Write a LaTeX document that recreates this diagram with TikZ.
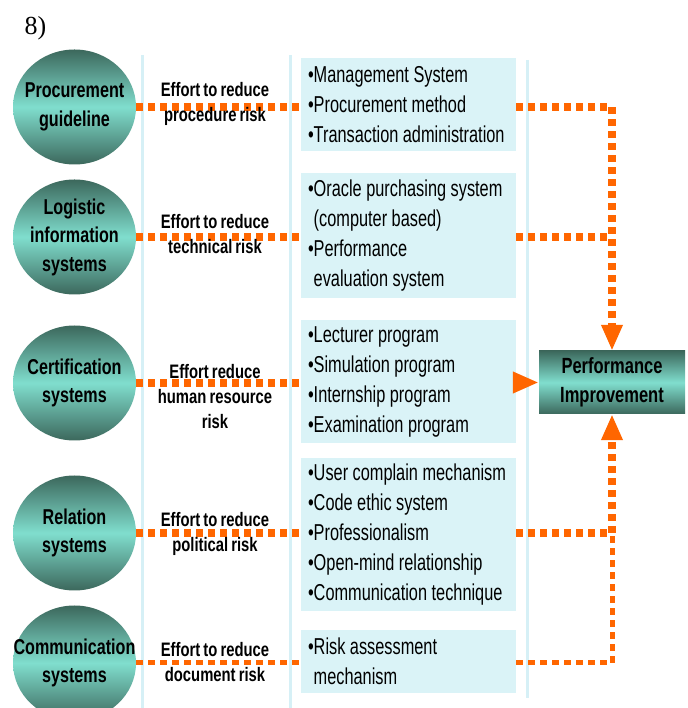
\documentclass[tikz,border=0pt]{standalone}
\usepackage{fontspec}
\setmainfont[FakeStretch=0.75,WordSpace=0.75]{Liberation Sans}
\newfontfamily\itemfam[FakeStretch=0.71]{Liberation Sans}
\newfontfamily\effortfam[FakeStretch=0.76,WordSpace=0.75]{Liberation Sans}
\newfontfamily\serifnum{Liberation Serif}
\usetikzlibrary{shapes.geometric,arrows.meta}
\definecolor{tealdark}{RGB}{60,104,92}
\definecolor{teallight}{RGB}{128,222,206}
\definecolor{boxblue}{RGB}{218,243,247}
\definecolor{guideblue}{RGB}{214,240,246}
\definecolor{floworange}{RGB}{255,102,0}
\begin{document}
\begin{tikzpicture}[>={Triangle[length=26bp,width=20bp]},line join=bevel,
  circ/.style={ellipse,minimum width=123bp,minimum height=115bp,inner sep=0pt,
    top color=tealdark,bottom color=tealdark,middle color=teallight},
  circtext/.style={align=center,inner sep=0pt,font=\bfseries\fontsize{21.5bp}{28.5bp}\selectfont},
  perfbox/.style={rectangle,minimum width=146bp,minimum height=63bp,inner sep=0pt,
    top color=tealdark,bottom color=tealdark,middle color=teallight,
    align=center,font=\bfseries\fontsize{22bp}{29bp}\selectfont},
  bullets/.style={rectangle,fill=boxblue,minimum width=215bp,text width=215bp,
    inner xsep=0pt,inner ysep=0pt,
    execute at begin node={\raggedright\leftskip=7bp\spaceskip=4.5bp plus 1bp minus 1bp\relax},
    font=\itemfam\fontsize{23bp}{30bp}\selectfont},
  effort/.style={align=center,inner sep=0pt,font=\effortfam\bfseries\fontsize{19.5bp}{25bp}\selectfont},
  guide/.style={guideblue,line width=3bp},
  flow/.style={floworange,line width=8bp,dash pattern=on 7bp off 5bp},
  flowthin/.style={floworange,line width=5bp,dash pattern=on 6.5bp off 5.5bp},
]
\clip (0bp,0bp) rectangle (688bp,708bp);
%%
\draw [guide] (142bp,653bp) -- (142bp,0bp);
\draw [guide] (290bp,653bp) -- (290bp,0bp);
\draw [guide] (527bp,648bp) -- (527bp,10bp);
%%
\node (title) at (35.5bp,680bp) {\serifnum\fontsize{26bp}{30bp}\selectfont 8)};
%%
\node (circ_1) at (74.5bp,601bp) [circ,label={[circtext]center:Procurement\\guideline}] {};
\node (circ_2) at (74.5bp,471bp) [circ,label={[circtext]center:Logistic\\information\\systems}] {};
\node (circ_3) at (74.5bp,325bp) [circ,label={[circtext]center:Certification\\systems}] {};
\node (circ_4) at (74.5bp,175bp) [circ,label={[circtext]center:Relation\\systems}] {};
\node (circ_5) at (74.5bp,45bp) [circ,label={[circtext]center:Communication\\systems}] {};
%%
\node (box_1) at (408.5bp,603.5bp) [bullets,minimum height=93bp] {•Management System\\•Procurement method\\•Transaction administration};
\node (box_2) at (408.5bp,472.5bp) [bullets,minimum height=125bp] {•Oracle purchasing system\\\phantom{•}(computer based)\\•Performance\\\phantom{•}evaluation system};
\node (box_3) at (408.5bp,326.5bp) [bullets,minimum height=123bp] {•Lecturer program\\•Simulation program\\•Internship program\\•Examination program};
\node (box_4) at (408.5bp,173.5bp) [bullets,minimum height=153bp] {•User complain mechanism\\•Code ethic system\\•Professionalism\\•Open-mind relationship\\•Communication technique};
\node (box_5) at (408.5bp,46.5bp) [bullets,minimum height=63bp] {•Risk assessment\\\phantom{•}mechanism};
%%
\node (perf) at (612bp,325.5bp) [perfbox] {Performance\\Improvement};
%%
\draw [flow] (circ_1.east) -- (circ_1.east -| box_1.west);
\draw [flow] (circ_2.east) -- (circ_2.east -| box_2.west);
\draw [flow] (circ_3.east) -- (circ_3.east -| box_3.west);
\draw [flow] (circ_4.east) -- (circ_4.east -| box_4.west);
\draw [flowthin] (circ_5.east) -- (circ_5.east -| box_5.west);
%
\draw [flow,->] (box_1.east |- circ_1) -| (perf.north);
\draw [flow] (box_2.east |- circ_2) -- (perf.north |- circ_2);
\draw [flow,->] (box_3.east |- perf.west) -- (perf.west);
\draw [flow,->] (box_4.east |- circ_4) -| (perf.south);
\draw [flowthin] (box_5.east |- circ_5) -| (perf.south |- circ_4);
%%
\node (lab_1) at (215bp,604.5bp) [effort] {Effort to reduce\\procedure risk};
\node (lab_2) at (215bp,473.5bp) [effort] {Effort to reduce\\technical risk};
\node (lab_3) at (215bp,311bp) [effort] {Effort reduce\\human resource\\risk};
\node (lab_4) at (215bp,174.5bp) [effort] {Effort to reduce\\political risk};
\node (lab_5) at (215bp,45.5bp) [effort] {Effort to reduce\\document risk};
%
\end{tikzpicture}
\end{document}
